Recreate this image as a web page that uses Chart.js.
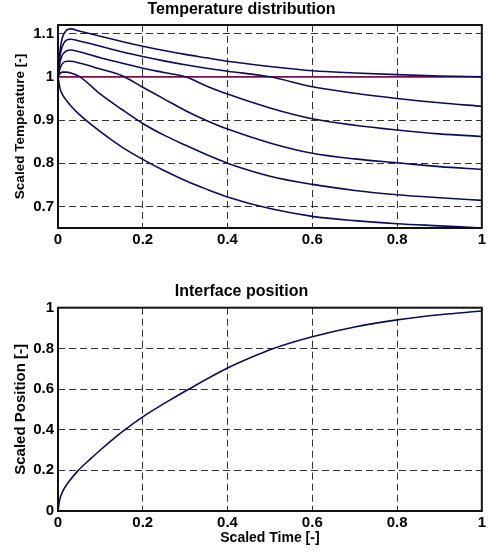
<!DOCTYPE html>
<html>
<head>
<meta charset="utf-8">
<script src="https://cdn.jsdelivr.net/npm/chart.js@4"></script>
<style>
	body   { margin: 0; background: #fff; }
	canvas { display: block; }
</style>
</head>
<body>
<canvas id="temperatureChart" width="489" height="260"></canvas>
<canvas id="interfaceChart" width="489" height="293"></canvas>
<script>
// scaled position along the slab (shared by all temperature curves)
let positionX = [0, 0.005, 0.01, 0.02, 0.03, 0.05, 0.1, 0.15, 0.2, 0.25, 0.3, 0.35, 0.4, 0.5, 0.6, 0.7, 0.8, 0.9, 1];

// temperature profiles, top to bottom
let tempCurve1 = [1.0, 1.062, 1.09, 1.108, 1.111, 1.106, 1.094, 1.082, 1.071, 1.061, 1.052, 1.044, 1.036, 1.024, 1.014, 1.009, 1.005, 1.002, 1.0];
let tempCurve2 = [1.0, 1.05, 1.07, 1.085, 1.087, 1.083, 1.071, 1.058, 1.047, 1.037, 1.028, 1.02, 1.013, 1.0, 0.977, 0.962, 0.95, 0.94, 0.932];
let tempCurve3 = [1.0, 1.035, 1.05, 1.06, 1.062, 1.058, 1.044, 1.032, 1.02, 1.01, 1.0, 0.979, 0.96, 0.928, 0.903, 0.888, 0.877, 0.868, 0.862];
let tempCurve4 = [1.0, 1.02, 1.03, 1.036, 1.036, 1.032, 1.018, 1.003, 0.976, 0.949, 0.922, 0.899, 0.879, 0.847, 0.823, 0.81, 0.801, 0.792, 0.786];
let tempCurve5 = [1.0, 1.008, 1.011, 1.011, 1.009, 1.001, 0.96, 0.925, 0.892, 0.865, 0.842, 0.82, 0.8, 0.77, 0.751, 0.737, 0.727, 0.72, 0.714];
let tempCurve6 = [1.0, 0.972, 0.96, 0.945, 0.933, 0.913, 0.873, 0.838, 0.809, 0.783, 0.76, 0.74, 0.722, 0.695, 0.677, 0.667, 0.66, 0.655, 0.65];

// melting temperature level
let meltX = [0, 1];
let meltY = [1, 1];

// interface position over time
let timeX         = [0, 0.004, 0.012, 0.024, 0.048, 0.076, 0.1, 0.128, 0.155, 0.2, 0.258, 0.305, 0.4, 0.455, 0.505, 0.6, 0.7, 0.8, 0.9, 1];
let interfacePosY = [0, 0.055, 0.1, 0.14, 0.2, 0.255, 0.3, 0.35, 0.395, 0.463, 0.538, 0.595, 0.703, 0.755, 0.797, 0.857, 0.905, 0.94, 0.965, 0.984];

// tick labels
let xTicks    = [0, 0.2, 0.4, 0.6, 0.8, 1];
let tempTicks = [0.7, 0.8, 0.9, 1, 1.1];
let posTicks  = [0, 0.2, 0.4, 0.6, 0.8, 1];

Chart.defaults.font.family = 'Arial, "Liberation Sans", Helvetica, sans-serif';
Chart.defaults.font.weight = 'bold';
Chart.defaults.color       = '#000';

const curveColor = '#0c0c5c';
const meltColor  = '#7a1048';
const gridColor  = '#333';

function points(xs, ys) {
	return xs.map((x, i) => ({ x : x, y : ys[i] }));
}

function curve(xs, ys, color) {
	return {
		data                   : points(xs, ys),
		borderColor            : color,
		borderWidth            : 1.6,
		pointRadius            : 0,
		cubicInterpolationMode : 'monotone',
		fill                   : false
	};
}

function fixedTicks(values) {
	return function(scale) {
		scale.ticks = values.map(v => ({ value : v }));
	};
}

function tickLabel(value) {
	return String(Math.round(value * 10) / 10);
}

// black box round the plot area, drawn on top like matlab
let boxPlugin = {
	id : 'plotBox',
	afterDatasetsDraw(chart) {
		let ctx = chart.ctx, a = chart.chartArea;
		ctx.save();
		ctx.strokeStyle = '#111';
		ctx.lineWidth = 2;
		ctx.strokeRect(a.left, a.top, a.right - a.left, a.bottom - a.top);
		ctx.restore();
	}
};

function gridOptions() {
	return { color : gridColor, lineWidth : 1, drawTicks : false };
}

let temperatureCtx = document.getElementById('temperatureChart').getContext('2d'),
	interfaceCtx   = document.getElementById('interfaceChart').getContext('2d');

let chartTemperature = new Chart(temperatureCtx, {
	type    : 'line',
	data    : {
		datasets : [
			curve(positionX, tempCurve1, curveColor),
			curve(positionX, tempCurve2, curveColor),
			curve(positionX, tempCurve3, curveColor),
			curve(positionX, tempCurve4, curveColor),
			curve(positionX, tempCurve5, curveColor),
			curve(positionX, tempCurve6, curveColor),
			curve(meltX, meltY, meltColor)
		]
	},
	plugins : [boxPlugin],
	options : {
		responsive : false,
		animation  : false,
		layout     : { padding : { left : 0, right : 6, top : 0, bottom : 0 } },
		plugins    : {
			legend  : { display : false },
			tooltip : { enabled : false },
			title   : {
				display : true,
				text    : 'Temperature distribution',
				color   : '#000',
				font    : { size : 16, weight : 'bold' },
				padding : { top : 0, bottom : 5.8 }
			}
		},
		scales : {
			x : {
				type            : 'linear',
				min             : 0,
				max             : 1,
				afterBuildTicks : fixedTicks(xTicks),
				afterFit        : function(scale) { scale.height = 32; },
				grid            : gridOptions(),
				border          : { display : false, dash : [7, 4] },
				ticks           : { padding : 3, font : { size : 15 }, callback : tickLabel, maxRotation : 0 }
			},
			y : {
				type            : 'linear',
				min             : 0.65,
				max             : 1.12,
				afterBuildTicks : fixedTicks(tempTicks),
				afterFit        : function(scale) { scale.width = 58; },
				grid            : gridOptions(),
				border          : { display : false, dash : [7, 4] },
				ticks           : { padding : 4, font : { size : 15 }, callback : tickLabel },
				title           : {
					display : true,
					text    : 'Scaled Temperature [-]',
					font    : { size : 13.5, weight : 'bold' },
					padding : { top : 12.5, bottom : 0 }
				}
			}
		}
	}
});

let chartInterface = new Chart(interfaceCtx, {
	type    : 'line',
	data    : {
		datasets : [
			curve(timeX, interfacePosY, curveColor)
		]
	},
	plugins : [boxPlugin],
	options : {
		responsive : false,
		animation  : false,
		layout     : { padding : { left : 0, right : 6, top : 0, bottom : 0 } },
		plugins    : {
			legend  : { display : false },
			tooltip : { enabled : false },
			title   : {
				display : true,
				text    : 'Interface position',
				color   : '#000',
				font    : { size : 16, weight : 'bold' },
				padding : { top : 22.4, bottom : 6.1 }
			}
		},
		scales : {
			x : {
				type            : 'linear',
				min             : 0,
				max             : 1,
				afterBuildTicks : fixedTicks(xTicks),
				afterFit        : function(scale) { scale.height = 42; },
				grid            : gridOptions(),
				border          : { display : false, dash : [7, 4] },
				ticks           : { padding : 3, font : { size : 15 }, callback : tickLabel, maxRotation : 0 },
				title           : {
					display : true,
					text    : 'Scaled Time [-]',
					font    : { size : 14, weight : 'bold' },
					padding : { top : 0, bottom : 6.6 }
				}
			},
			y : {
				type            : 'linear',
				min             : 0,
				max             : 1,
				afterBuildTicks : fixedTicks(posTicks),
				afterFit        : function(scale) { scale.width = 58; },
				grid            : gridOptions(),
				border          : { display : false, dash : [7, 4] },
				ticks           : { padding : 4, font : { size : 15 }, callback : tickLabel },
				title           : {
					display : true,
					text    : 'Scaled Position [-]',
					font    : { size : 15, weight : 'bold' },
					padding : { top : 11.5, bottom : 0 }
				}
			}
		}
	}
});
</script>
</body>
</html>
